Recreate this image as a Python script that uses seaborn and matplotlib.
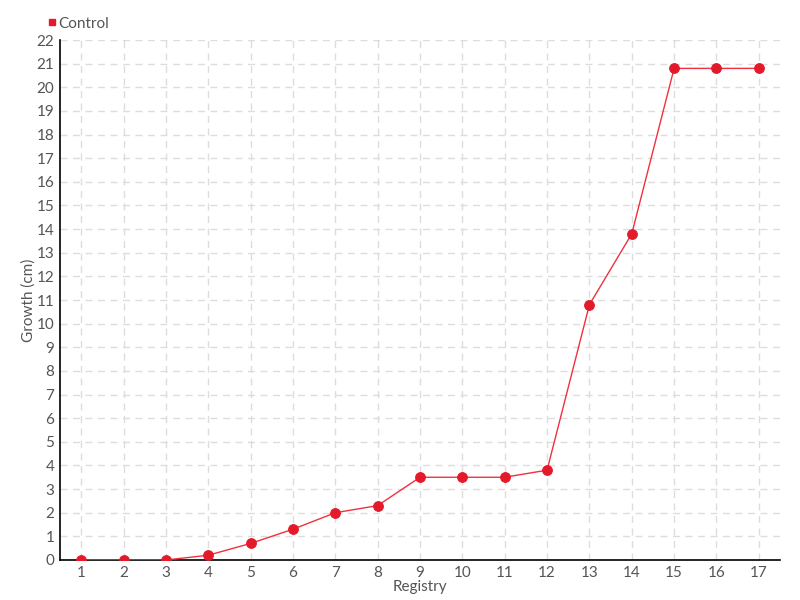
import matplotlib
matplotlib.use("Agg")
import matplotlib.pyplot as plt
import seaborn as sns
import pandas as pd
from matplotlib.lines import Line2D

registry = list(range(1, 18))
growth = [0, 0, 0, 0.2, 0.7, 1.3, 2.0, 2.3, 3.5, 3.5, 3.5, 3.8, 10.8, 13.8, 20.8, 20.8, 20.8]
series_name = "Control"

df = pd.DataFrame({"Registry": registry, "Growth": growth})

sns.set_style("white")
plt.rcParams['font.family'] = ['Lato', 'DejaVu Sans']

fig = plt.figure(figsize=(8, 6), dpi=100)
ax = fig.add_axes([0.075, 0.0667, 0.9, 0.8666])

red = "#e41a2a"
sns.lineplot(data=df, x="Registry", y="Growth", ax=ax, color="#f0303f", linewidth=1,
             marker="o", markersize=7, markerfacecolor=red, markeredgecolor=red, zorder=3)

ax.set_xlim(0.5, 17.5)
ax.set_ylim(0, 22)
ax.set_xticks(registry)
ax.set_yticks(range(0, 23))
ax.grid(True, color="#dddddd", linestyle=(0, (5, 4)), linewidth=1)
for s in ["top", "right"]:
    ax.spines[s].set_visible(False)
for s in ["left", "bottom"]:
    ax.spines[s].set_color("black")
    ax.spines[s].set_linewidth(1.2)
ax.tick_params(axis="both", direction="inout", length=6, width=1, colors="black",
               labelcolor="#555555", labelsize=11, pad=1)
ax.set_xlabel("Registry", fontsize=11, color="#555555", labelpad=0)
ax.set_ylabel("Growth (cm)", fontsize=11, color="#555555", labelpad=1)

handle = Line2D([], [], marker="s", color="none", markerfacecolor=red, markeredgecolor=red, markersize=5)
fig.legend([handle], [series_name], loc="upper left", bbox_to_anchor=(0.042, 0.995),
           frameon=False, fontsize=11, handletextpad=0.1, handlelength=0.6,
           labelcolor="#555555")

fig.savefig("out.png", dpi=100)
